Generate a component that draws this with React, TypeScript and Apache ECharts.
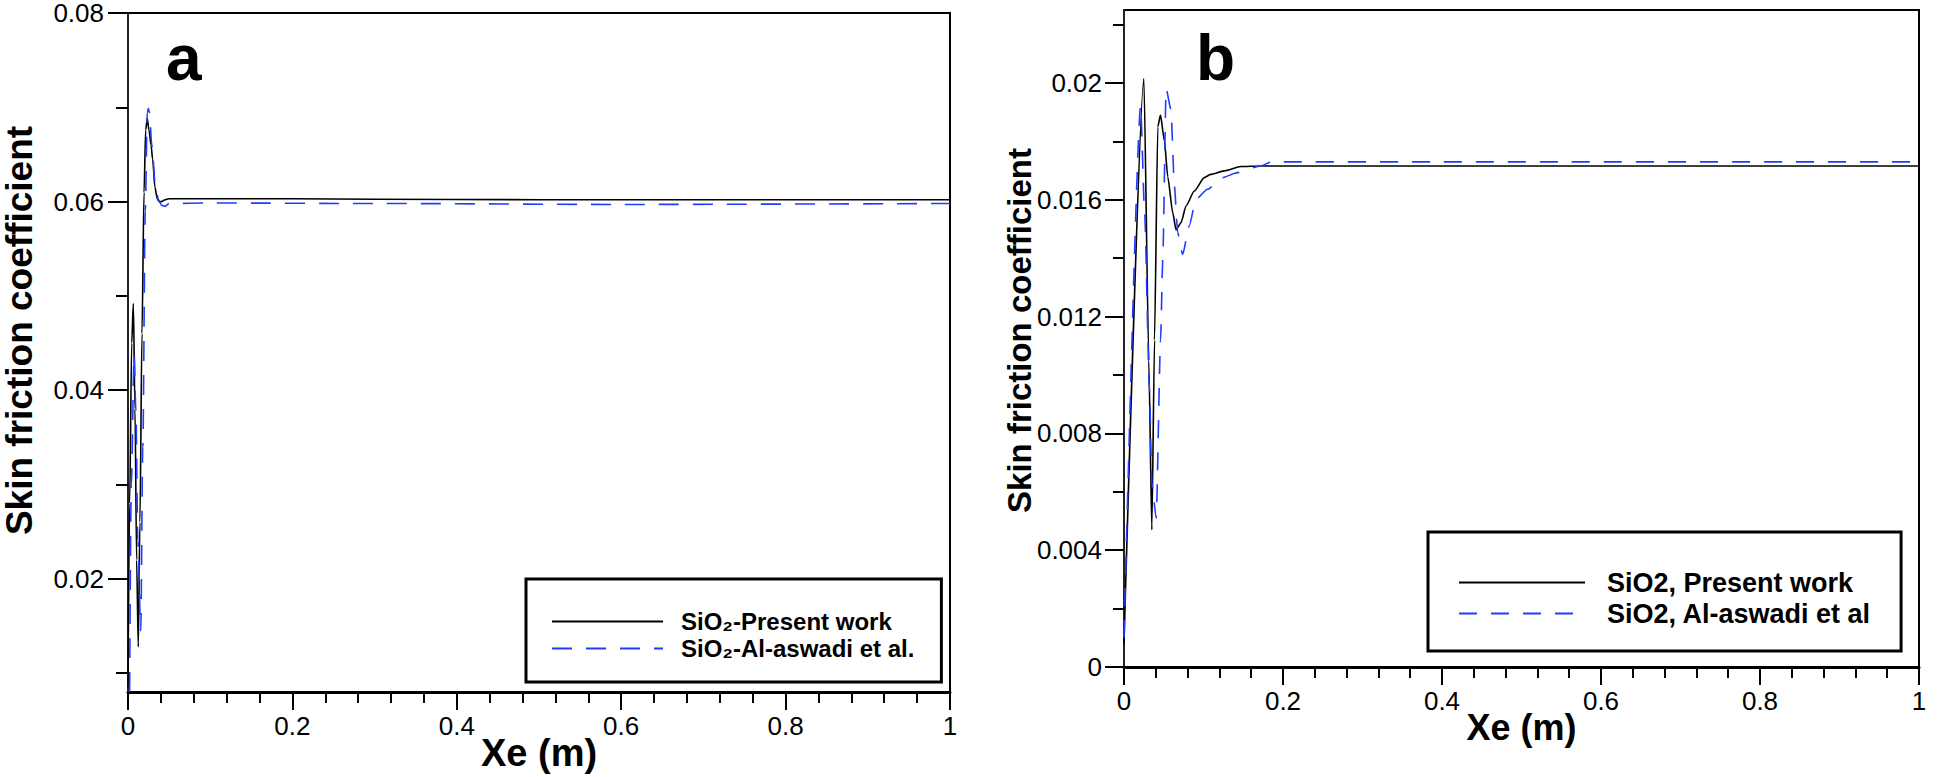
import { useEffect, useRef } from 'react';
import * as echarts from 'echarts';

const FONT = '"Liberation Sans", Arial, Helvetica, sans-serif';

// Panel a: [Xe (m), skin friction coefficient]
const presentA: [number, number][] = [
  [0, 0.0085], [0.002, 0.028], [0.0045, 0.045], [0.0065, 0.0492], [0.0085, 0.038],
  [0.0105, 0.022], [0.0125, 0.0128], [0.0145, 0.026], [0.017, 0.046], [0.0195, 0.061],
  [0.0215, 0.0676], [0.0234, 0.0688], [0.0255, 0.0676], [0.028, 0.066], [0.03, 0.0645],
  [0.0328, 0.0615], [0.0356, 0.0603], [0.038, 0.06], [0.041, 0.06], [0.045, 0.0602],
  [0.05, 0.0603], [0.1, 0.0603], [0.2, 0.0603], [0.3, 0.06025], [0.5, 0.0602],
  [0.7, 0.0602], [1.0, 0.0602],
];
const aswadiA: [number, number][] = [
  [0.002, 0.008], [0.004, 0.03], [0.0075, 0.0438], [0.0095, 0.038], [0.012, 0.024],
  [0.0155, 0.0145], [0.018, 0.034], [0.021, 0.059], [0.0235, 0.0694], [0.0247, 0.0699],
  [0.026, 0.0695], [0.029, 0.066], [0.033, 0.062], [0.037, 0.0602], [0.041, 0.0596],
  [0.045, 0.0595], [0.05, 0.0598], [0.1, 0.05985], [0.3, 0.0598], [0.6, 0.0597],
  [1.0, 0.0598],
];

// Panel b
const presentB: [number, number][] = [
  [0, 0.0008], [0.025, 0.02015], [0.0312, 0.0105], [0.035, 0.0047], [0.0384, 0.0112],
  [0.0425, 0.0185], [0.0459, 0.0189], [0.0509, 0.018], [0.055, 0.0168], [0.0613, 0.01556],
  [0.0655, 0.01497], [0.0718, 0.01522], [0.078, 0.01579], [0.0884, 0.0163], [0.101, 0.01676],
  [0.109, 0.01687], [0.126, 0.01699], [0.147, 0.01714], [0.172, 0.01716], [0.4, 0.01716],
  [1.0, 0.01716],
];
const aswadiB: [number, number][] = [
  [0, 0.001], [0.0209, 0.0192], [0.026, 0.0155], [0.032, 0.0095], [0.035, 0.0063],
  [0.0405, 0.0051], [0.046, 0.0112], [0.0488, 0.014], [0.053, 0.0198], [0.059, 0.0191],
  [0.0634, 0.01647], [0.0675, 0.01488], [0.0738, 0.01413], [0.082, 0.0151], [0.0905, 0.01602],
  [0.105, 0.01636], [0.124, 0.01676], [0.1425, 0.01693], [0.172, 0.01716], [0.186, 0.0173],
  [0.4, 0.0173], [1.0, 0.0173],
];

const xTicks = [0, 0.2, 0.4, 0.6, 0.8, 1];
const aYTicks = [0.02, 0.04, 0.06, 0.08];
const aYMinorTicks = [0.01, 0.03, 0.05, 0.07];
const bYTicks = [0, 0.004, 0.008, 0.012, 0.016, 0.02];
const bYMinorTicks = [0.002, 0.006, 0.01, 0.014, 0.018, 0.022];
const namesA = ['SiO₂-Present work', 'SiO₂-Al-aswadi et al.'];
const namesB = ['SiO2, Present work', 'SiO2, Al-aswadi et al'];

const fmt = (v: number) => String(parseFloat(Number(v).toFixed(4)));

const labelStyle = (margin: number, size: number) => ({
  margin, fontFamily: FONT, fontSize: size, color: '#000', formatter: fmt, lineHeight: 20,
});

function xAxis(gridIndex: number, nameGap: number, nameSize: number) {
  return {
    type: 'value', gridIndex, min: xTicks[0], max: xTicks[xTicks.length - 1], interval: xTicks[1] - xTicks[0],
    name: 'Xe (m)', nameLocation: 'middle', nameGap, nameMoveOverlap: false,
    nameTextStyle: { fontFamily: FONT, fontWeight: 'bold', fontSize: nameSize, color: '#000' },
    axisLine: { show: true, onZero: false, lineStyle: { color: '#000', width: 3 } },
    axisTick: { show: true, length: 18, lineStyle: { color: '#000', width: 2 } },
    minorTick: { show: true, splitNumber: 5, length: 11, lineStyle: { color: '#000', width: 2 } },
    axisLabel: labelStyle(24, 26),
    splitLine: { show: false },
    minorSplitLine: { show: false },
  };
}

function yMain(gridIndex: number, min: number, max: number, ticks: number[], nameGap: number, nameSize: number, shift: number, tickLen: number, margin: number) {
  return {
    type: 'value', gridIndex, min, max, position: 'left',
    name: 'Skin friction coefficient', nameLocation: 'middle', nameGap, nameMoveOverlap: false,
    nameTextStyle: { fontFamily: FONT, fontWeight: 'bold', fontSize: nameSize, color: '#000', padding: [0, 0, 0, shift] },
    axisLine: { show: true, onZero: false, lineStyle: { color: '#222', width: 2 } },
    axisTick: { show: true, length: tickLen, customValues: ticks, lineStyle: { color: '#000', width: 2 } },
    axisLabel: { ...labelStyle(margin, 26), customValues: ticks },
    splitLine: { show: false },
  };
}

function yMinor(gridIndex: number, min: number, max: number, ticks: number[], len: number) {
  return {
    type: 'value', gridIndex, min, max, position: 'left',
    axisLine: { show: false, onZero: false },
    axisTick: { show: true, length: len, customValues: ticks, lineStyle: { color: '#000', width: 2 } },
    axisLabel: { show: false },
    splitLine: { show: false },
  };
}

function lineSeries(name: string, data: [number, number][], xi: number, yi: number, dashed: boolean, dash: number[], smooth: number) {
  return {
    type: 'line', name, data, xAxisIndex: xi, yAxisIndex: yi, symbol: 'none', showSymbol: false,
    smooth, smoothMonotone: 'x',
    lineStyle: { color: dashed ? '#1f3cff' : '#000', width: 1.6, type: dashed ? dash : 'solid' },
    itemStyle: { color: dashed ? '#1f3cff' : '#000' },
  };
}

export default function App() {
  const ref = useRef<HTMLDivElement>(null);
  useEffect(() => {
    if (!ref.current) return;
    const chart = echarts.init(ref.current, undefined, { renderer: 'svg' });
    chart.setOption({
      animation: false,
      backgroundColor: '#fff',
      grid: [
        { left: 126, top: 10, width: 824, height: 686, show: true, borderColor: '#000', borderWidth: 2, backgroundColor: 'transparent' },
        { left: 1124, top: 10, width: 795, height: 657, show: true, borderColor: '#000', borderWidth: 2, backgroundColor: 'transparent' },
      ],
      xAxis: [xAxis(0, 42, 38), xAxis(1, 42, 36)],
      yAxis: [
        yMain(0, 0.008, 0.08, aYTicks, 90, 37, 44, 20, 24),
        yMinor(0, 0.008, 0.08, aYMinorTicks, 12),
        yMain(1, 0, 0.0225, bYTicks, 88, 33, 16, 19, 22),
        yMinor(1, 0, 0.0225, bYMinorTicks, 11),
      ],
      legend: [
        {
          data: namesA, orient: 'vertical', left: 526, top: 579, itemWidth: 111, itemHeight: 14, itemGap: 0,
          padding: [29, 27, 20, 25], borderColor: '#000', borderWidth: 3, selectedMode: false,
          itemStyle: { opacity: 0 },
          textStyle: { fontFamily: FONT, fontWeight: 'bold', fontSize: 24, color: '#000', lineHeight: 27, padding: [0, 0, 0, 13] },
        },
        {
          data: namesB, orient: 'vertical', left: 1428, top: 532, itemWidth: 126, itemHeight: 14, itemGap: 0,
          padding: [35, 30, 22, 30], borderColor: '#000', borderWidth: 3, selectedMode: false,
          itemStyle: { opacity: 0 },
          textStyle: { fontFamily: FONT, fontWeight: 'bold', fontSize: 27, color: '#000', lineHeight: 31, padding: [0, 0, 0, 17] },
        },
      ],
      graphic: [
        { type: 'text', x: 166, y: 58, style: { text: 'a', fontFamily: FONT, fontWeight: 'bold', fontSize: 64, fill: '#000', verticalAlign: 'middle' } },
        { type: 'text', x: 1196, y: 58, style: { text: 'b', fontFamily: FONT, fontWeight: 'bold', fontSize: 64, fill: '#000', verticalAlign: 'middle' } },
      ],
      series: [
        lineSeries(namesA[0], presentA, 0, 0, false, [], 0.3),
        lineSeries(namesA[1], aswadiA, 0, 0, true, [20, 14], 0.3),
        lineSeries(namesB[0], presentB, 1, 2, false, [], 0.2),
        lineSeries(namesB[1], aswadiB, 1, 2, true, [18, 14], 0.2),
      ],
    });
    return () => chart.dispose();
  }, []);
  return <div ref={ref} style={{ position: 'absolute', left: 0, top: 0, width: 1940, height: 777 }} />;
}
